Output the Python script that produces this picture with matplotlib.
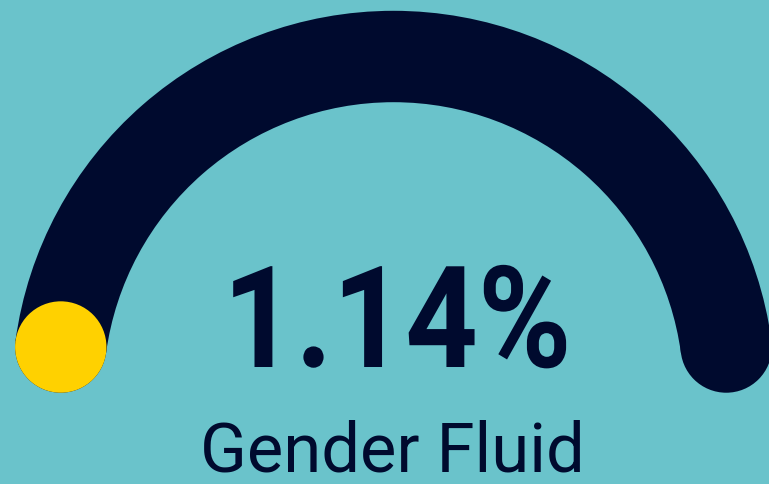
import numpy as np
import matplotlib.pyplot as plt
from matplotlib.patches import Wedge, Circle
from matplotlib.patheffects import AbstractPathEffect
from matplotlib.transforms import Affine2D

# Gauge data
value = 1.14          # percent
label = "Gender Fluid"
value_text = f"{value:.2f}%"

# Colours
BG_COLOUR = "#6AC3CB"
ARC_COLOUR = "#000A2E"
DOT_COLOUR = "#FFD100"

W, H = 769, 485


class SqueezeX(AbstractPathEffect):
    """Narrow the glyphs horizontally about a fixed display x (DIN-ish look)."""
    def __init__(self, sx, x0):
        super().__init__()
        self.sx = sx
        self.x0 = x0

    def draw_path(self, renderer, gc, tpath, affine, rgbFace=None):
        squeeze = Affine2D().translate(-self.x0, 0).scale(self.sx, 1).translate(self.x0, 0)
        renderer.draw_path(gc, tpath, affine + squeeze, rgbFace)


fig = plt.figure(figsize=(W / 100, H / 100), dpi=100, facecolor=BG_COLOUR)
ax = fig.add_axes([0, 0, 1, 1])
ax.set_xlim(0, W)
ax.set_ylim(0, H)
ax.set_facecolor(BG_COLOUR)
ax.axis("off")

# Arc geometry (pixels, y up)
cx, cy = 393.5, H - 393.3
r_mid = 335.8
half_w = 45.7
start_deg, end_deg = 172.25, 7.75

ax.add_patch(Wedge((cx, cy), r_mid + half_w, end_deg, start_deg,
                   width=2 * half_w, facecolor=ARC_COLOUR, edgecolor="none"))
# round end caps
for a in (start_deg, end_deg):
    t = np.radians(a)
    ax.add_patch(Circle((cx + r_mid * np.cos(t), cy + r_mid * np.sin(t)), half_w,
                        facecolor=ARC_COLOUR, edgecolor="none"))

# value marker sits at the start of the gauge
t = np.radians(start_deg)
ax.add_patch(Circle((cx + r_mid * np.cos(t), cy + r_mid * np.sin(t)), half_w,
                    facecolor=DOT_COLOUR, edgecolor="none", zorder=3))

num_x = 397
num = ax.text(num_x, H - 368, value_text, ha="center", va="baseline", color=ARC_COLOUR,
              fontsize=102, fontweight="bold", family=["Roboto", "DejaVu Sans"])
num.set_path_effects([SqueezeX(0.895, ax.transData.transform((num_x, 0))[0])])

ax.text(392, H - 472, label, ha="center", va="baseline", color=ARC_COLOUR,
        fontsize=49.5, family=["Roboto", "DejaVu Sans"])

fig.savefig("out.png", dpi=100, facecolor=BG_COLOUR)
